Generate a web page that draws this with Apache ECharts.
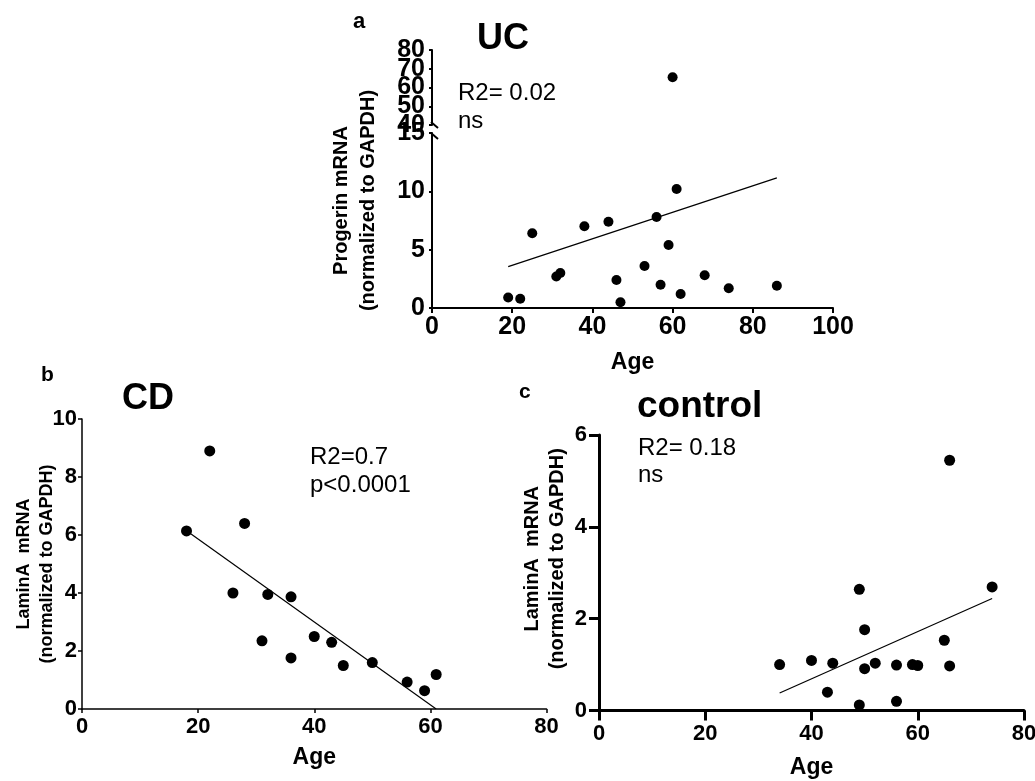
<!DOCTYPE html>
<html>
<head>
<meta charset="utf-8">
<script src="https://cdn.jsdelivr.net/npm/echarts@6/dist/echarts.min.js"></script>
<style>
html,body{margin:0;padding:0;background:#fff;}
#chart{width:1035px;height:781px;}
</style>
</head>
<body>
<div id="chart"></div>
<script>
// ---------- Data ----------
// Panel a: UC, Progerin mRNA vs Age
const ucAge   = [19, 22, 25, 31, 32, 38, 44, 46, 47, 53, 56, 57, 59, 61, 62, 68, 74, 86];
const ucValue = [0.9, 0.8, 6.4, 2.7, 3.0, 7.0, 7.4, 2.4, 0.5, 3.6, 7.8, 2.0, 5.4, 10.2, 1.2, 2.8, 1.7, 1.9];
const ucHighAge   = [60];
const ucHighValue = [65.5];
const ucFitAge   = [19, 86];
const ucFitValue = [3.55, 11.15];
const ucLowTicks  = [0, 15, 5];    // min, max, interval (below the break)
const ucHighTicks = [40, 80, 20];  // 40, 60, 80 (above the break)
const ucMidTicks  = [50, 70, 20];  // 50, 70 (above the break)
const ucAgeTicks  = [0, 100, 20];

// Panel b: CD, LaminA mRNA vs Age
const cdAge   = [18, 22, 26, 28, 31, 32, 36, 36, 40, 43, 45, 50, 56, 59, 61];
const cdValue = [6.14, 8.9, 4.0, 6.4, 2.35, 3.95, 3.87, 1.76, 2.5, 2.3, 1.5, 1.6, 0.93, 0.63, 1.19];
const cdFitAge   = [18, 61];
const cdFitValue = [6.15, 0];
const cdYTicks   = [0, 10, 2];
const cdAgeTicks = [0, 80, 20];

// Panel c: control, LaminA mRNA vs Age
const ctlAge   = [34, 40, 43, 44, 49, 49, 50, 50, 52, 56, 56, 59, 60, 65, 66, 66, 74];
const ctlValue = [1.0, 1.09, 0.4, 1.03, 2.64, 0.12, 1.76, 0.91, 1.03, 0.99, 0.2, 1.0, 0.98, 1.53, 5.45, 0.97, 2.69];
const ctlFitAge   = [34, 74];
const ctlFitValue = [0.38, 2.44];
const ctlYTicks   = [0, 6, 2];
const ctlAgeTicks = [0, 80, 20];

// Texts
const panelLetters = ['a', 'b', 'c'];
const panelTitles  = ['UC', 'CD', 'control'];
const statTexts    = ['R2= 0.02\nns', 'R2=0.7\np<0.0001', 'R2= 0.18\nns'];
const yTitleA = 'Progerin mRNA\n(normalized to GAPDH)';
const yTitleBC = 'LaminA  mRNA\n(normalized to GAPDH)';
const xTitle = 'Age';

// ---------- Helpers ----------
const FONT = "'Liberation Sans', Arial, sans-serif";
const zip = (a, b) => a.map((v, i) => [v, b[i]]);

function valAxis(gridIndex, ticks, o) {
  return Object.assign({
    type: 'value', gridIndex: gridIndex,
    min: ticks[0], max: ticks[1], interval: ticks[2],
    splitLine: { show: false },
    nameMoveOverlap: false,
    axisLine: { show: true, onZero: false, lineStyle: { color: '#000', width: o.lw } },
    axisTick: { show: true, inside: false, length: o.tl, lineStyle: { color: '#000', width: o.lw } },
    axisLabel: { color: '#000', fontFamily: FONT, fontWeight: 'bold', fontSize: o.fs, margin: o.m,
                 showMinLabel: true, showMaxLabel: true, hideOverlap: false }
  }, o.extra || {});
}

function scatter(x, y, xi, yi, size) {
  return { type: 'scatter', xAxisIndex: xi, yAxisIndex: yi, data: zip(x, y),
           symbol: 'circle', symbolSize: size, itemStyle: { color: '#000', opacity: 1 }, z: 3 };
}
function fit(x, y, xi, yi) {
  return { type: 'line', xAxisIndex: xi, yAxisIndex: yi, data: zip(x, y), symbol: 'none',
           lineStyle: { color: '#000', width: 1.2 }, silent: true, z: 2 };
}
function txt(text, left, top, size, bold, lh) {
  return { text: text, left: left, top: top, padding: 0,
           textStyle: { color: '#000', fontFamily: FONT, fontSize: size,
                        fontWeight: bold ? 'bold' : 'normal', lineHeight: lh || size * 1.2 } };
}

// Upper segment of panel a: 40..80 over 75 px; the 50/70 overlay grid is placed from that scale
const upTop = 50, upH = 75;
const upPx = v => upTop + upH * (ucHighTicks[1] - v) / (ucHighTicks[1] - ucHighTicks[0]);

const chart = echarts.init(document.getElementById('chart'), null, { renderer: 'canvas' });

const option = {
  backgroundColor: '#fff',
  animation: false,
  title: [
    txt(panelLetters[0], 353, 9, 22, true),
    txt(panelTitles[0], 477, 21, 36, true, 36),
    txt(statTexts[0], 458, 79, 24, false, 28.5),
    txt(panelLetters[1], 41, 363, 21, true),
    txt(panelTitles[1], 122, 381, 36, true, 36),
    txt(statTexts[1], 310, 443, 24, false, 28.5),
    txt(panelLetters[2], 519, 380, 21, true),
    txt(panelTitles[2], 637, 388, 37, true, 37),
    txt(statTexts[2], 638, 435, 24, false, 27)
  ],
  grid: [
    { left: 432, top: 133, width: 401, height: 175, outerBoundsMode: 'none' },   // a lower
    { left: 432, top: upTop, width: 401, height: upH, outerBoundsMode: 'none' }, // a upper
    { left: 82,  top: 419, width: 464.5, height: 290, outerBoundsMode: 'none' }, // b
    { left: 599, top: 435, width: 425, height: 275.5, outerBoundsMode: 'none' }, // c
    { left: 432, top: upPx(ucMidTicks[1]), width: 401,
      height: upPx(ucMidTicks[0]) - upPx(ucMidTicks[1]), outerBoundsMode: 'none' } // a upper, 50/70
  ],
  xAxis: [
    valAxis(0, ucAgeTicks, { lw: 2, tl: 5, fs: 25, m: 7, extra: {
      name: xTitle, nameLocation: 'middle', nameGap: 43,
      nameTextStyle: { color: '#000', fontFamily: FONT, fontWeight: 'bold', fontSize: 23 } } }),
    valAxis(1, ucAgeTicks, { lw: 2, tl: 5, fs: 25, m: 7, extra: { show: false } }),
    valAxis(2, cdAgeTicks, { lw: 1.5, tl: 4, fs: 22, m: 7, extra: {
      name: xTitle, nameLocation: 'middle', nameGap: 37,
      nameTextStyle: { color: '#000', fontFamily: FONT, fontWeight: 'bold', fontSize: 23 } } }),
    valAxis(3, ctlAgeTicks, { lw: 3, tl: 10, fs: 22, m: 12, extra: {
      name: xTitle, nameLocation: 'middle', nameGap: 46,
      nameTextStyle: { color: '#000', fontFamily: FONT, fontWeight: 'bold', fontSize: 23 } } }),
    valAxis(4, ucAgeTicks, { lw: 2, tl: 5, fs: 25, m: 7, extra: { show: false } })
  ],
  yAxis: [
    valAxis(0, ucLowTicks, { lw: 2, tl: 3, fs: 25, m: 7, extra: {
      name: yTitleA, nameLocation: 'middle', nameGap: 50, nameRotate: 90,
      nameTextStyle: { color: '#000', fontFamily: FONT, fontWeight: 'bold', fontSize: 20,
                       lineHeight: 27, padding: [0, 0, 0, 40] } } }),
    valAxis(1, ucHighTicks, { lw: 2, tl: 3, fs: 25, m: 7 }),
    valAxis(2, cdYTicks, { lw: 1.5, tl: 4, fs: 22, m: 5, extra: {
      name: yTitleBC, nameLocation: 'middle', nameGap: 23, nameRotate: 90,
      nameTextStyle: { color: '#000', fontFamily: FONT, fontWeight: 'bold', fontSize: 18, lineHeight: 23 } } }),
    valAxis(3, ctlYTicks, { lw: 3, tl: 10, fs: 22, m: 12, extra: {
      name: yTitleBC, nameLocation: 'middle', nameGap: 29, nameRotate: 90,
      nameTextStyle: { color: '#000', fontFamily: FONT, fontWeight: 'bold', fontSize: 20,
                       lineHeight: 25, padding: [0, 0, 0, 28] } } }),
    valAxis(4, ucMidTicks, { lw: 2, tl: 3, fs: 25, m: 7 })
  ],
  series: [
    scatter(ucAge, ucValue, 0, 0, 10),
    scatter(ucHighAge, ucHighValue, 1, 1, 10),
    fit(ucFitAge, ucFitValue, 0, 0),
    scatter(cdAge, cdValue, 2, 2, 11),
    fit(cdFitAge, cdFitValue, 2, 2),
    scatter(ctlAge, ctlValue, 3, 3, 11),
    fit(ctlFitAge, ctlFitValue, 3, 3)
  ]
};
chart.setOption(option);

// Axis-break marks between the two segments of panel a's y axis
const pLow = chart.convertToPixel({ xAxisIndex: 0, yAxisIndex: 0 }, [ucAgeTicks[0], ucLowTicks[1]]);
const pHigh = chart.convertToPixel({ xAxisIndex: 1, yAxisIndex: 1 }, [ucAgeTicks[0], ucHighTicks[0]]);
chart.setOption({
  graphic: [
    { type: 'line', shape: { x1: pHigh[0] - 1, y1: pHigh[1] - 3, x2: pHigh[0] + 6, y2: pHigh[1] + 3 },
      style: { stroke: '#000', lineWidth: 2 } },
    { type: 'line', shape: { x1: pLow[0] - 1, y1: pLow[1], x2: pLow[0] + 6, y2: pLow[1] + 6 },
      style: { stroke: '#000', lineWidth: 2 } }
  ]
});
</script>
</body>
</html>
